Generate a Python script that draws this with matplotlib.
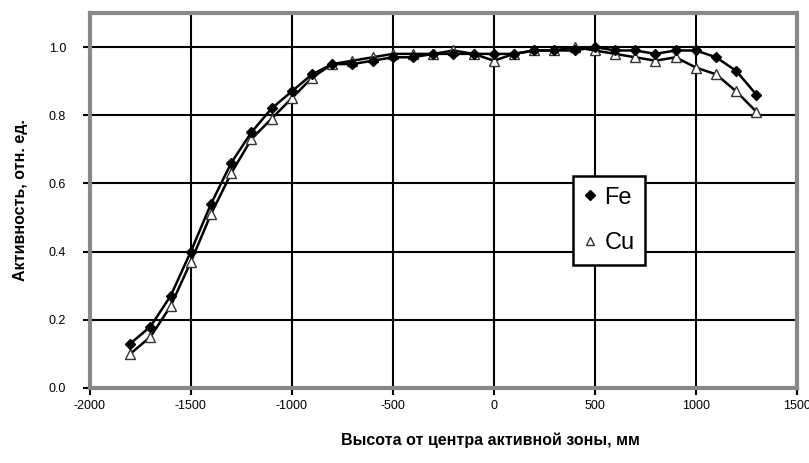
import matplotlib.pyplot as plt
from matplotlib.ticker import FormatStrFormatter

plt.rcParams['font.family'] = ['Liberation Sans', 'DejaVu Sans']
plt.rcParams['axes.unicode_minus'] = False

# height from the core centre, mm
height = [-1800, -1700, -1600, -1500, -1400, -1300, -1200, -1100, -1000, -900,
          -800, -700, -600, -500, -400, -300, -200, -100, 0, 100,
          200, 300, 400, 500, 600, 700, 800, 900, 1000, 1100,
          1200, 1300]

fe = [0.13, 0.18, 0.27, 0.40, 0.54, 0.66, 0.75, 0.82, 0.87, 0.92,
      0.95, 0.95, 0.96, 0.97, 0.97, 0.98, 0.98, 0.98, 0.98, 0.98,
      0.99, 0.99, 0.99, 1.00, 0.99, 0.99, 0.98, 0.99, 0.99, 0.97,
      0.93, 0.86]

cu = [0.10, 0.15, 0.24, 0.37, 0.51, 0.63, 0.73, 0.79, 0.85, 0.91,
      0.95, 0.96, 0.97, 0.98, 0.98, 0.98, 0.99, 0.98, 0.96, 0.98,
      0.99, 0.99, 1.00, 0.99, 0.98, 0.97, 0.96, 0.97, 0.94, 0.92,
      0.87, 0.81]

fig = plt.figure(figsize=(8.09, 4.63), dpi=100)
ax = fig.add_axes([0.111, 0.162, 0.874, 0.81])

ax.plot(height, fe, color='black', lw=1.8, marker='D', markersize=5.5,
        markerfacecolor='black', markeredgecolor='black', label='Fe', zorder=4)
ax.plot(height, cu, color='black', lw=1.8, marker='^', markersize=6.5,
        markerfacecolor='white', markeredgecolor='#333333', label='Cu', zorder=3)

ax.set_xlim(-2000, 1500)
ax.set_ylim(0, 1.1)
ax.set_xticks(range(-2000, 1501, 500))
ax.set_yticks([0, 0.2, 0.4, 0.6, 0.8, 1.0])
ax.yaxis.set_major_formatter(FormatStrFormatter('%.1f'))
ax.grid(True, color='black', lw=1.5)
ax.set_axisbelow(True)

for side in ax.spines.values():
    side.set_color('#888888')
    side.set_linewidth(3)

ax.tick_params(axis='both', direction='out', length=5, width=1.5,
               color='black', labelsize=9)
ax.tick_params(axis='y', pad=12)
ax.tick_params(axis='x', pad=4)

ax.set_xlabel('Высота от центра активной зоны, мм', fontsize=11.5,
              fontweight='bold')
ax.set_ylabel('Активность, отн. ед.', fontsize=11.5, fontweight='bold')
ax.xaxis.set_label_coords(0.566, -0.12)
ax.yaxis.set_label_coords(-0.088, 0.5)

leg = ax.legend(loc='upper left', bbox_to_anchor=(0.683, 0.565),
                fontsize=17, frameon=True, fancybox=False, handlelength=0.6,
                handletextpad=0.3, borderpad=0.45, labelspacing=1.0,
                borderaxespad=0, markerscale=0.9)
leg.get_frame().set_edgecolor('black')
leg.get_frame().set_linewidth(1.8)
leg.get_frame().set_alpha(1)
for line in leg.get_lines():
    line.set_linestyle('')

fig.savefig('out.png', dpi=100)
